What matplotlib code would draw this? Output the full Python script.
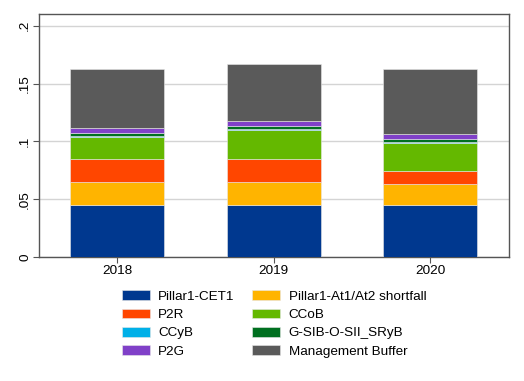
import numpy as np
import matplotlib.pyplot as plt
from matplotlib.ticker import FixedLocator, FixedFormatter

plt.rcParams['font.family'] = ['Liberation Sans', 'DejaVu Sans']

years = ['2018', '2019', '2020']
series = ['Pillar1-CET1', 'Pillar1-At1/At2 shortfall', 'P2R', 'CCoB', 'CCyB',
          'G-SIB-O-SII_SRyB', 'P2G', 'Management Buffer']
cet1 = [0.045, 0.045, 0.045]
at1_at2 = [0.020, 0.020, 0.018]
p2r = [0.020, 0.020, 0.0115]
ccob = [0.019, 0.025, 0.0245]
ccyb = [0.001, 0.001, 0.0008]
gsib = [0.002, 0.002, 0.002]
p2g = [0.0045, 0.0045, 0.0047]
mgmt = [0.051, 0.049, 0.0557]
values = [cet1, at1_at2, p2r, ccob, ccyb, gsib, p2g, mgmt]
yticks = [0, 0.05, 0.1, 0.15, 0.2]
ytick_labels = ['0', '.05', '.1', '.15', '.2']
colors = ['#00388f', '#ffb400', '#ff4600', '#64b800', '#00b0e8',
          '#007020', '#8040c8', '#5a5a5a']

fs = 9.7
fig = plt.figure(figsize=(5.24, 3.81), dpi=100)
ax = fig.add_axes([0.074, 0.325, 0.897, 0.638])

x = np.arange(len(years))
bottom = np.zeros(len(years))
handles = []
for name, vals, c in zip(series, values, colors):
    b = ax.bar(x, vals, 0.6, bottom=bottom, color=c, label=name,
               edgecolor='#e8e8e8', linewidth=0.4, zorder=3)
    bottom += np.array(vals)
    handles.append(b)

ax.set_xlim(-0.5, 2.5)
ax.set_ylim(0, 0.21)
ax.set_xticks(x)
ax.set_xticklabels(years, fontsize=fs)
ax.yaxis.set_major_locator(FixedLocator(yticks))
ax.yaxis.set_major_formatter(FixedFormatter(ytick_labels))
for lab in ax.get_yticklabels():
    lab.set_rotation(90)
    lab.set_va('center')
    lab.set_fontsize(fs)
ax.grid(axis='y', color='#d4d4d4', linewidth=1, zorder=0)
for s in ax.spines.values():
    s.set_color('#555555')
    s.set_linewidth(1)
ax.tick_params(axis='both', length=4, color='#555555', labelsize=fs, pad=1.5)

order = [0, 2, 4, 6, 1, 3, 5, 7]
fig.legend([handles[i] for i in order], [series[i] for i in order],
           loc='upper center', bbox_to_anchor=(0.523, 0.263), ncol=2,
           frameon=False, fontsize=fs, handlelength=2.05, handleheight=0.75,
           handletextpad=0.65, columnspacing=1.3, labelspacing=0.42,
           borderpad=0.2)

fig.savefig('out.png', dpi=100)
